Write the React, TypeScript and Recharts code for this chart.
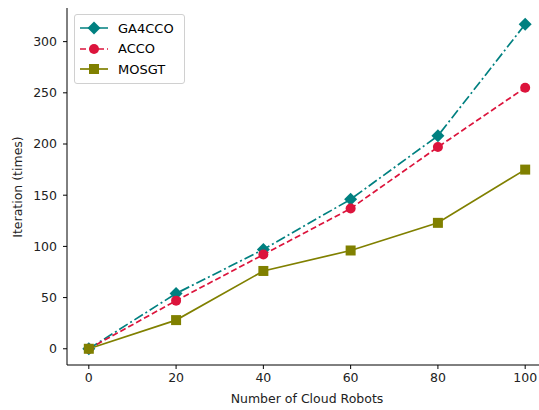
import { CartesianGrid, Label, Legend, Line, LineChart, XAxis, YAxis } from "recharts";

const robots = [0, 20, 40, 60, 80, 100];
const ga4cco = [0, 54, 97, 146, 208, 317];
const acco = [0, 47, 92, 137, 197, 255];
const mosgt = [0, 28, 76, 96, 123, 175];
const xTicks = [0, 20, 40, 60, 80, 100];
const yTicks = [0, 50, 100, 150, 200, 250, 300];

const data = robots.map((r, i) => ({ robots: r, GA4CCO: ga4cco[i], ACCO: acco[i], MOSGT: mosgt[i] }));

const FONT = "'DejaVu Sans', sans-serif";

const series = [
  { key: "GA4CCO", color: "#008080", dash: "10 3 2 3", marker: "diamond" },
  { key: "ACCO", color: "#DC143C", dash: "6 3", marker: "circle" },
  { key: "MOSGT", color: "#808000", dash: undefined, marker: "square" },
];

function Marker({ cx, cy, kind, color }: { cx: number; cy: number; kind: string; color: string }) {
  if (cx == null || cy == null) return null;
  if (kind === "diamond") {
    const r = 6.5;
    return <polygon points={`${cx},${cy - r} ${cx + r},${cy} ${cx},${cy + r} ${cx - r},${cy}`} fill={color} />;
  }
  if (kind === "circle") return <circle cx={cx} cy={cy} r={5} fill={color} />;
  return <rect x={cx - 5} y={cy - 5} width={10} height={10} fill={color} />;
}

function LegendBox() {
  return (
    <div
      style={{
        background: "rgba(255,255,255,0.8)",
        border: "1px solid #d0d0d0",
        borderRadius: 3,
        padding: "3px 10px 3px 5px",
        fontFamily: FONT,
        fontSize: 13,
        color: "#000",
      }}
    >
      {series.map((s) => (
        <div key={s.key} style={{ display: "flex", alignItems: "center", height: 20.5 }}>
          <svg width={28} height={14} style={{ marginRight: 10 }}>
            <line x1={0} y1={7} x2={28} y2={7} stroke={s.color} strokeWidth={1.7} strokeDasharray={s.dash} />
            <Marker cx={14} cy={7} kind={s.marker} color={s.color} />
          </svg>
          <span>{s.key}</span>
        </div>
      ))}
    </div>
  );
}

export default function App() {
  return (
    <div style={{ position: "absolute", left: 0, top: 0, width: 539, height: 410, overflow: "hidden", background: "#fff" }}>
      <LineChart width={560} height={410} data={data} margin={{ top: 8, right: 13, bottom: 0, left: 0 }}>
        <CartesianGrid stroke="none" />
        <XAxis
          dataKey="robots"
          type="number"
          domain={[-5, 105]}
          ticks={xTicks}
          height={45}
          tickSize={4}
          tickMargin={4}
          stroke="#000"
          tick={{ fill: "#222", fontFamily: FONT, fontSize: 12.5 }}
          allowDataOverflow
        >
          <Label
            content={() => (
              <text x={307} y={403} textAnchor="middle" fontFamily={FONT} fontSize={12.5} fill="#222">
                Number of Cloud Robots
              </text>
            )}
          />
        </XAxis>
        <XAxis xAxisId="top" orientation="top" dataKey="robots" type="number" domain={[-5, 105]} height={0} tick={false} tickLine={false} stroke="#000" />
        <YAxis
          type="number"
          domain={[-15.85, 332.85]}
          ticks={yTicks}
          width={67}
          tickSize={4}
          tickMargin={6}
          stroke="#000"
          tick={{ fill: "#222", fontFamily: FONT, fontSize: 12.5 }}
          allowDataOverflow
        >
          <Label
            content={() => (
              <text transform="translate(22,187) rotate(-90)" textAnchor="middle" fontFamily={FONT} fontSize={12.5} fill="#222">
                Iteration (times)
              </text>
            )}
          />
        </YAxis>
        <YAxis yAxisId="right" orientation="right" width={0} tick={false} tickLine={false} stroke="#000" />
        <Legend
          layout="vertical"
          verticalAlign="middle"
          align="center"
          content={() => <LegendBox />}
          wrapperStyle={{ left: 74, top: 14, width: "auto", height: "auto" }}
        />
        {series.map((s) => (
          <Line
            key={s.key}
            type="linear"
            dataKey={s.key}
            stroke={s.color}
            strokeWidth={1.7}
            strokeDasharray={s.dash}
            isAnimationActive={false}
            dot={(p: any) => <Marker key={p.index} cx={p.cx} cy={p.cy} kind={s.marker} color={s.color} />}
            activeDot={false}
          />
        ))}
      </LineChart>
    </div>
  );
}
